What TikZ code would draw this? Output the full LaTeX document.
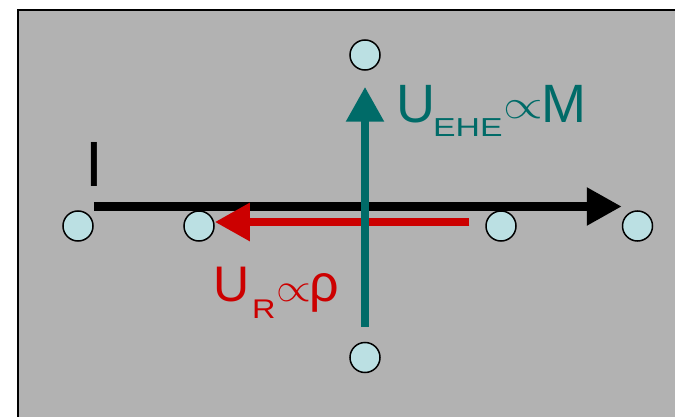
\documentclass[tikz,border=0pt]{standalone}
\usepackage{fontspec}
\setmainfont{Liberation Sans}
\usepackage{xcolor}
\usepackage{tikz}
\usetikzlibrary{arrows.meta,positioning}
\definecolor{panelgray}{RGB}{178,178,178}
\definecolor{contactfill}{RGB}{187,224,227}
\definecolor{ehecolor}{RGB}{0,107,104}
\definecolor{rcolor}{RGB}{204,0,0}

\begin{document}
\begin{tikzpicture}[x=1pt,y=-1pt,
    contact/.style={circle,draw,line width=1.5pt,fill=contactfill,minimum size=30pt,inner sep=0pt},
    arrow/.style={line width=8.5pt,-{Triangle[length=35pt,width=36pt]}},
    label/.style={inner sep=0pt,anchor=base west}
]
\useasboundingbox (0,0) rectangle (675,417);
\draw[line width=2pt,fill=panelgray] (18,10) rectangle (690,430);
\node[contact] (c1) at (78,226) {};
\node[contact] (c2) at (199,226) {};
\node[contact] (c3) at (501,226) {};
\node[contact] (c4) at (637.5,226) {};
\node[contact] (top) at (365,55) {};
\node[contact] (bottom) at (365,357.5) {};
\draw[arrow] ([yshift=19.5pt]c1.east) -- ([yshift=19.5pt]c4.west);
\draw[arrow,rcolor] ([xshift=-16pt,yshift=4pt]c3.west) -- ([yshift=4pt]c2.east);
\draw[arrow,ehecolor] ([yshift=15pt]bottom.north) -- ([yshift=-16pt]top.south);
\node[inner sep=0pt,anchor=base] (current) at (94.5,186) {\fontsize{64}{64}\selectfont I};
\node[label,text=ehecolor] (uehe) at (396,123)
  {\fontsize{54}{54}\selectfont U\hspace{-2pt}\raisebox{-14pt}{\scalebox{1.3}[1]{\fontsize{26}{26}\selectfont EHE}}\hspace{1pt}\raisebox{5pt}{\scalebox{5.1}[4.1]{\normalsize$\propto$}}\hspace{-2pt}M};
\node[label,text=rcolor] (ur) at (212.8,301)
  {\fontsize{50}{50}\selectfont U\hspace{3pt}\raisebox{-17pt}{\scalebox{1.2}[1]{\fontsize{27}{27}\selectfont R}}\hspace{0.5pt}\scalebox{4.48}[4]{\normalsize$\propto$}\hspace{-1.4pt}{\fontsize{52}{52}\selectfont ρ}};
\end{tikzpicture}
\end{document}
